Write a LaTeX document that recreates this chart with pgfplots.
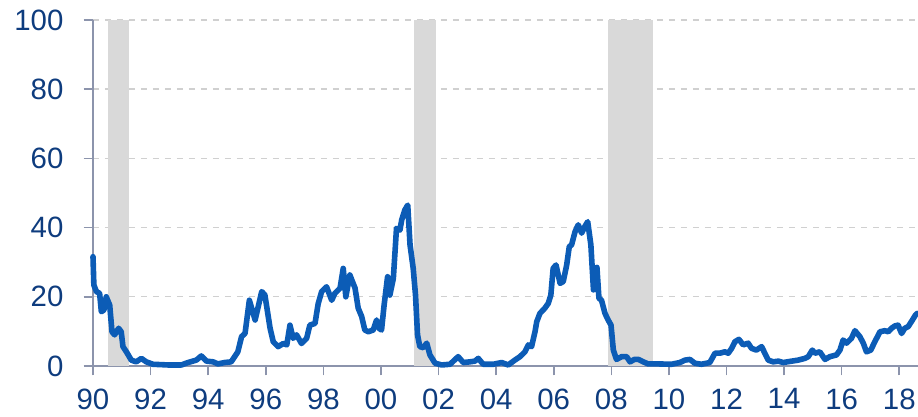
\documentclass[border=0pt]{standalone}
\usepackage{fontspec}
\setmainfont{Liberation Sans}
\usepackage{pgfplots}
\pgfplotsset{compat=1.18}
\definecolor{lineblue}{RGB}{12,92,182}
\definecolor{labelblue}{RGB}{14,60,126}
\definecolor{axisgray}{RGB}{140,148,172}
\definecolor{gridgray}{RGB}{208,208,208}
\definecolor{recgray}{RGB}{217,217,217}
\begin{document}
\begin{tikzpicture}
\begin{axis}[
    at={(0,0)}, anchor=south west,
    scale only axis,
    width=412.5pt, height=173pt,
    xmin=1990, xmax=2018.65,
    ymin=0, ymax=100,
    axis x line=bottom, axis y line=left,
    axis line style={-, color=axisgray, line width=0.8pt},
    xtick={1990,1992,...,2018},
    xticklabels={90,92,94,96,98,00,02,04,06,08,10,12,14,16,18},
    ytick={0,20,40,60,80,100},
    tick align=outside,
    major tick length=4.75pt,
    tick style={color=axisgray, line width=0.8pt},
    ymajorgrids=true,
    grid style={dashed, color=gridgray, line width=0.7pt},
    /pgf/number format/assume math mode=true,
    ticklabel style={font=\fontsize{14.7}{16}\selectfont, text=labelblue},
    yticklabel style={xshift=-6.5pt},
    xticklabel style={yshift=-3pt},
    clip=false,
]
% recessions
\addplot[fill=recgray, draw=none] coordinates {(1990.51,0) (1990.51,100) (1991.25,100) (1991.25,0)} -- cycle;
\addplot[fill=recgray, draw=none] coordinates {(2001.16,0) (2001.16,100) (2001.90,100) (2001.90,0)} -- cycle;
\addplot[fill=recgray, draw=none] coordinates {(2007.89,0) (2007.89,100) (2009.45,100) (2009.45,0)} -- cycle;
% series
\addplot[color=lineblue, line width=2.8pt, line join=round, line cap=round] table {
1990.00 31.6
1990.03 23.4
1990.12 21.5
1990.23 21.0
1990.29 15.7
1990.38 16.2
1990.46 20.0
1990.58 17.6
1990.66 9.9
1990.75 9.0
1990.89 10.9
1990.98 9.9
1991.04 5.6
1991.16 4.1
1991.33 1.7
1991.50 1.2
1991.68 2.2
1991.85 1.2
1992.08 0.5
1992.60 0.3
1993.07 0.3
1993.30 1.0
1993.59 1.7
1993.76 2.9
1993.94 1.4
1994.17 1.2
1994.34 0.6
1994.57 1.0
1994.80 1.2
1994.92 2.7
1995.03 4.1
1995.16 8.5
1995.28 9.4
1995.43 19.0
1995.63 13.3
1995.86 21.5
1995.97 20.5
1996.15 10.9
1996.26 7.0
1996.43 5.6
1996.61 6.5
1996.73 6.1
1996.84 11.8
1996.95 8.0
1997.07 9.0
1997.24 6.5
1997.42 8.0
1997.53 11.8
1997.71 12.3
1997.82 18.0
1997.94 21.5
1998.11 22.9
1998.29 19.0
1998.40 21.0
1998.58 22.5
1998.69 28.2
1998.78 20.0
1998.92 26.3
1999.10 22.5
1999.21 16.7
1999.33 14.3
1999.44 10.4
1999.56 9.9
1999.73 10.4
1999.85 13.3
1999.93 10.9
2000.02 10.4
2000.11 17.6
2000.23 25.8
2000.31 20.5
2000.43 25.3
2000.54 39.8
2000.66 39.3
2000.72 42.2
2000.83 45.1
2000.93 46.5
2001.01 35.0
2001.12 28.2
2001.20 20.5
2001.27 9.0
2001.35 5.6
2001.47 5.3
2001.59 6.6
2001.70 3.2
2001.88 0.8
2002.11 0.3
2002.40 0.5
2002.68 2.7
2002.86 1.0
2003.09 1.2
2003.26 1.4
2003.38 2.2
2003.55 0.5
2003.90 0.5
2004.19 1.0
2004.42 0.3
2004.65 1.7
2004.83 2.7
2005.00 4.1
2005.12 6.1
2005.23 5.6
2005.35 9.9
2005.41 12.8
2005.52 15.2
2005.69 16.7
2005.81 18.1
2005.90 20.5
2005.98 28.2
2006.08 29.2
2006.22 23.9
2006.33 24.4
2006.45 29.2
2006.54 34.5
2006.62 35.0
2006.74 38.8
2006.85 40.8
2006.97 38.4
2007.08 40.3
2007.18 41.7
2007.29 35.0
2007.38 22.0
2007.50 28.5
2007.57 19.6
2007.66 19.0
2007.78 15.2
2007.89 13.3
2007.99 11.8
2008.07 4.6
2008.18 1.9
2008.36 2.7
2008.53 2.7
2008.65 1.2
2008.80 1.9
2008.94 1.9
2009.11 1.2
2009.28 0.6
2009.63 0.6
2010.09 0.5
2010.38 1.0
2010.56 1.7
2010.73 1.9
2010.90 0.8
2011.13 0.5
2011.42 1.0
2011.60 3.7
2011.77 3.7
2011.94 4.1
2012.06 3.7
2012.18 5.1
2012.29 7.0
2012.43 7.7
2012.58 6.1
2012.75 6.6
2012.87 5.1
2013.04 4.6
2013.22 5.6
2013.33 3.7
2013.45 1.7
2013.62 1.2
2013.80 1.4
2013.97 1.0
2014.26 1.4
2014.49 1.7
2014.72 2.2
2014.84 2.7
2014.98 4.6
2015.07 3.7
2015.24 4.1
2015.42 1.9
2015.59 2.7
2015.82 3.2
2015.94 4.6
2016.05 7.5
2016.17 6.6
2016.34 8.0
2016.46 10.2
2016.63 8.5
2016.75 6.6
2016.86 4.1
2017.01 4.6
2017.15 7.0
2017.33 9.9
2017.50 10.2
2017.62 9.9
2017.73 10.9
2017.85 11.6
2017.96 11.8
2018.08 9.4
2018.19 10.9
2018.31 11.4
2018.42 12.8
2018.56 14.7
2018.62 15.2
};
\end{axis}
\pgfresetboundingbox
\path[use as bounding box] (-46.5pt,-25.5pt) rectangle (412.5pt,183pt);
\end{tikzpicture}
\end{document}
